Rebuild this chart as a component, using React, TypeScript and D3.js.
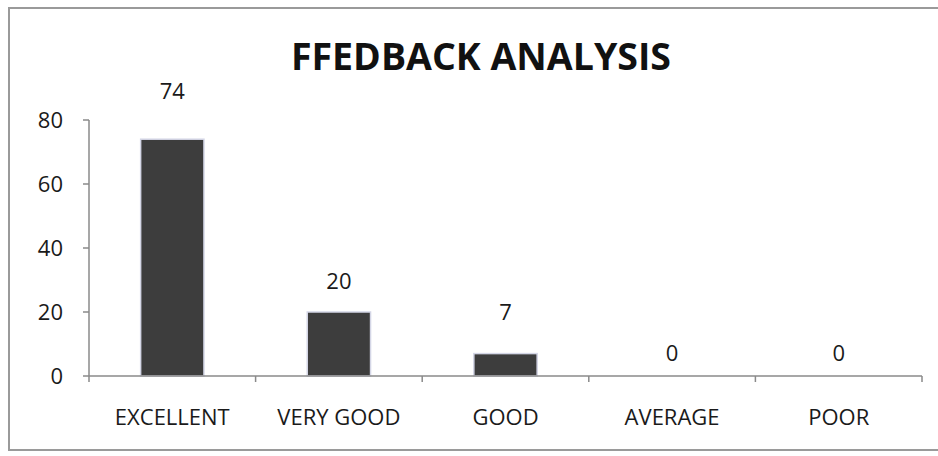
import { useMemo } from "react";
import * as d3 from "d3";

const categories = ["EXCELLENT", "VERY GOOD", "GOOD", "AVERAGE", "POOR"];
const values = [74, 20, 7, 0, 0];
const yTicks = [0, 20, 40, 60, 80];
const title = "FFEDBACK ANALYSIS";

// labels in the source sit at uneven heights above the bars
const labelGap = [40, 23, 34, 15, 15];

const WIDTH = 938;
const HEIGHT = 456;
const PLOT = { left: 89, right: 922, top: 120, bottom: 376 };
const FONT = "'Open Sans', 'Liberation Sans', sans-serif";
const AXIS = "#8a8a8a";

const App = () => {
    const x = useMemo(
        () =>
            d3
                .scaleBand<string>()
                .domain(categories)
                .range([PLOT.left, PLOT.right])
                .paddingInner(0.62)
                .paddingOuter(0.31),
        []
    );
    const y = useMemo(
        () => d3.scaleLinear().domain([0, 80]).range([PLOT.bottom, PLOT.top]),
        []
    );

    const step = x.step();
    const boundaries = d3.range(categories.length + 1).map(i => PLOT.left + i * step);

    return (
        <svg
            width={WIDTH}
            height={HEIGHT}
            style={{ position: "absolute", left: 0, top: 0, background: "#fff" }}
        >
            <rect x={9} y={8} width={945} height={442} fill="#fff" stroke="#9a9a9a" strokeWidth={2} />

            <text
                x={481}
                y={70}
                textAnchor="middle"
                fontFamily={FONT}
                fontWeight={700}
                fontSize={37.5}
                fill="#111"
            >
                {title}
            </text>

            {/* y axis */}
            <line x1={PLOT.left} x2={PLOT.left} y1={y(80)} y2={y(0)} stroke={AXIS} strokeWidth={1.5} />
            {yTicks.map(t => (
                <g key={t}>
                    <line x1={PLOT.left - 6} x2={PLOT.left} y1={y(t)} y2={y(t)} stroke={AXIS} strokeWidth={1.5} />
                    <text
                        x={63}
                        y={y(t)}
                        dy="0.35em"
                        textAnchor="end"
                        fontFamily={FONT}
                        fontSize={22}
                        fill="#1a1a1a"
                    >
                        {t}
                    </text>
                </g>
            ))}

            {/* bars */}
            {values.map((v, i) => (
                <rect
                    key={categories[i]}
                    x={x(categories[i])}
                    y={y(v)}
                    width={x.bandwidth()}
                    height={y(0) - y(v)}
                    fill="#3d3d3d"
                    stroke="#d4d6e6"
                    strokeWidth={v > 0 ? 1.5 : 0}
                />
            ))}

            {/* x axis */}
            <line x1={PLOT.left} x2={PLOT.right} y1={y(0)} y2={y(0)} stroke={AXIS} strokeWidth={1.5} />
            {boundaries.map((bx, i) => (
                <line key={i} x1={bx} x2={bx} y1={y(0)} y2={y(0) + 6} stroke={AXIS} strokeWidth={1.5} />
            ))}

            {/* value labels */}
            {values.map((v, i) => (
                <text
                    key={categories[i]}
                    x={(x(categories[i]) ?? 0) + x.bandwidth() / 2}
                    y={y(v) - labelGap[i]}
                    textAnchor="middle"
                    fontFamily={FONT}
                    fontSize={22}
                    fill="#1a1a1a"
                >
                    {v}
                </text>
            ))}

            {/* category labels */}
            {categories.map(c => (
                <text
                    key={c}
                    x={(x(c) ?? 0) + x.bandwidth() / 2}
                    y={425}
                    textAnchor="middle"
                    fontFamily={FONT}
                    fontSize={22}
                    fill="#1a1a1a"
                >
                    {c}
                </text>
            ))}
        </svg>
    );
};

export default App;
